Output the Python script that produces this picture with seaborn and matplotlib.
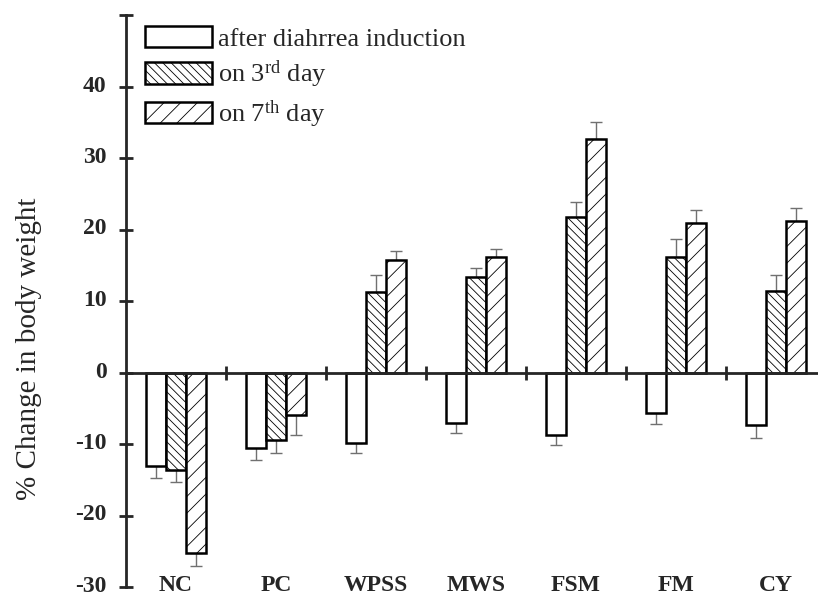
import matplotlib
matplotlib.use("Agg")
import matplotlib.pyplot as plt
import matplotlib.transforms as mtransforms
import seaborn as sns
import numpy as np
import pandas as pd

# values
groups = ['NC', 'PC', 'WPSS', 'MWS', 'FSM', 'FM', 'CY']
days = ['after diahrrea induction', 'on 3$^{\\mathrm{rd}}$ day', 'on 7$^{\\mathrm{th}}$ day']
after = [-13.1, -10.5, -9.9, -7.0, -8.7, -5.6, -7.4]
day3 = [-13.6, -9.4, 11.2, 13.3, 21.7, 16.1, 11.4]
day7 = [-25.3, -5.9, 15.7, 16.1, 32.7, 20.9, 21.2]
err_after = [1.7, 1.7, 1.4, 1.4, 1.4, 1.6, 1.7]
err3 = [1.7, 1.8, 2.4, 1.3, 2.2, 2.6, 2.3]
err7 = [1.8, 2.9, 1.3, 1.2, 2.4, 1.8, 1.8]
yticks = [-30, -20, -10, 0, 10, 20, 30, 40, 50]

sns.set_style('ticks')
plt.rcParams['font.family'] = ['Liberation Serif', 'DejaVu Serif']
plt.rcParams['mathtext.fontset'] = 'custom'
plt.rcParams['mathtext.rm'] = 'Liberation Serif'
plt.rcParams['mathtext.it'] = 'Liberation Serif:italic'
plt.rcParams['hatch.linewidth'] = 0.6

df = pd.DataFrame({
    'group': groups * 3,
    'day': [days[0]] * 7 + [days[1]] * 7 + [days[2]] * 7,
    'value': after + day3 + day7,
})

fig = plt.figure(figsize=(8.18, 5.96), dpi=100)
ax = fig.add_axes([126 / 818, 9 / 596, 692 / 818, 572 / 596])

sns.barplot(data=df, x='group', y='value', hue='day', order=groups, hue_order=days,
            palette=['white'] * 3, edgecolor='black', linewidth=1.8,
            width=0.6, gap=0, legend=False, ax=ax, zorder=2)

hatches = ['', '\\\\\\\\', '//']
values = [after, day3, day7]
errs = [err_after, err3, err7]
for cont, h, vals, ee in zip(ax.containers, hatches, values, errs):
    xs = []
    for p in cont.patches:
        p.set_hatch(h)
        xs.append(p.get_x() + p.get_width() / 2)
    vals = np.array(vals)
    ee = np.array(ee)
    lo = np.where(vals < 0, ee, 0)
    hi = np.where(vals > 0, ee, 0)
    ax.errorbar(xs, vals, yerr=[lo, hi], fmt='none', ecolor='#707070',
                elinewidth=1.0, capsize=4, capthick=1.0, zorder=1)

ax.set_xlim(-0.5, 6.42)
ax.set_ylim(-30, 50)
ax.set_yticks(yticks)
ax.set_yticklabels([str(t) if t < 50 else '' for t in yticks],
                   fontsize=17, fontweight='bold')
ax.tick_params(axis='y', direction='inout', length=10, width=2, pad=9)
# labels sit a little above their ticks in the reference
shift = mtransforms.ScaledTranslation(0, 3 / 100, fig.dpi_scale_trans)
for lbl in ax.get_yticklabels():
    lbl.set_transform(lbl.get_transform() + shift)

# x axis drawn through zero, ticks on the group boundaries
ax.spines['bottom'].set_position(('data', 0))
ax.spines['top'].set_visible(False)
ax.spines['right'].set_visible(False)
ax.spines['left'].set_linewidth(2)
ax.spines['bottom'].set_linewidth(2)
ax.set_xticks(np.arange(0.5, 6, 1))
ax.set_xticklabels([])
ax.tick_params(axis='x', direction='inout', length=10, width=2)
ax.set_xlabel('')

# group labels along the bottom
sec = ax.secondary_xaxis(0.021)
sec.set_xticks(range(len(groups)))
sec.set_xticklabels(groups, fontsize=17, fontweight='bold')
sec.tick_params(length=0, pad=0)
sec.spines['bottom'].set_visible(False)

ax.set_ylabel('% Change in body weight', fontsize=21)
ax.yaxis.set_label_coords(-(126 - 42) / 692, (596 - 349 - 9) / 572)

ax.legend(ax.containers, days, loc='upper left', frameon=False,
          bbox_to_anchor=(145 / 818, 1 - 26 / 596), bbox_transform=fig.transFigure,
          fontsize=19, handlelength=2.54, handleheight=0.87,
          handletextpad=0.23, labelspacing=0.3, borderpad=0, borderaxespad=0)

plt.savefig('out.png', dpi=100)
